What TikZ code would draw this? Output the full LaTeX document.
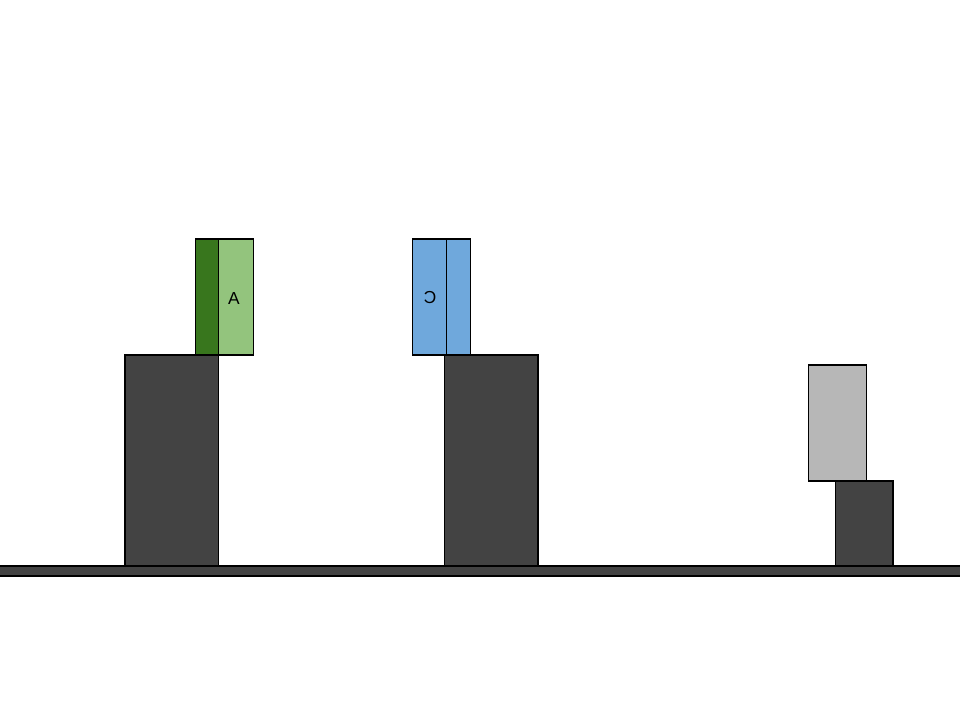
\documentclass[tikz,border=0pt]{standalone}
\usepackage{fontspec}
\setmainfont{Liberation Sans}
\definecolor{pillar}{HTML}{434343}
\definecolor{gdark}{HTML}{38761D}
\definecolor{glight}{HTML}{93C47D}
\definecolor{blu}{HTML}{6FA8DC}
\definecolor{gry}{HTML}{B7B7B7}
\begin{document}
\begin{tikzpicture}[x=0.75pt,y=-0.75pt,
  blk/.style={draw=black,line width=0.8pt},
  lbl/.style={font=\fontsize{13}{13}\selectfont,inner sep=0pt}]
\useasboundingbox (0,0) rectangle (960,720);
% ground
\path[blk,fill=pillar] (-2,566) rectangle (962,576);
% pillars
\path[blk,fill=pillar] (125,355) rectangle (218.5,566);
\path[blk,fill=pillar] (444.5,355) rectangle (538,566);
\path[blk,fill=pillar] (835.5,481) rectangle (893,566);
% green block
\path[blk,fill=gdark] (195.5,239) rectangle (218.5,355);
\path[blk,fill=glight] (218.5,239) rectangle (253.5,355);
\node[lbl] (a) at (234,299) {A};
% blue block
\path[blk,fill=blu] (412.5,239) rectangle (446.5,355);
\path[blk,fill=blu] (446.5,239) rectangle (470.5,355);
\node[lbl] (c) at (430,298) {\scalebox{-1}[1]{C}};
% gray block
\path[blk,fill=gry] (808.5,365) rectangle (866.5,481);
\end{tikzpicture}
\end{document}
